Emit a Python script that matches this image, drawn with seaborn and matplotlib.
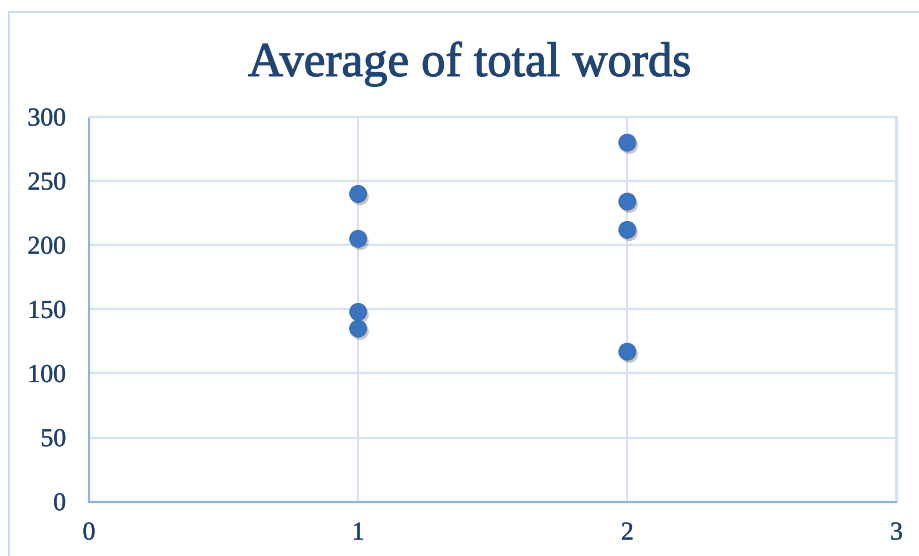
import matplotlib
matplotlib.use("Agg")
import matplotlib.pyplot as plt
import matplotlib.patheffects as pe
from matplotlib.patches import Rectangle
import pandas as pd
import seaborn as sns

# Average total words per group
group = [1, 1, 1, 1, 2, 2, 2, 2]
avg_words = [240, 205, 148, 135, 280, 234, 212, 117]
x_ticks = [0, 1, 2, 3]
y_ticks = [0, 50, 100, 150, 200, 250, 300]
title = "Average of total words"

df = pd.DataFrame({"group": group, "avg_words": avg_words})

sns.set_theme(style="white")
plt.rcParams["font.family"] = ["Liberation Serif", "DejaVu Serif"]

text_color = "#1F3F6E"
grid_color = "#D5E2F3"
axis_color = "#8DB3E2"

fig = plt.figure(figsize=(9.19, 5.56), dpi=100)
ax = fig.add_axes([89 / 919, 1 - 501.7 / 556, (896.5 - 89) / 919, (501.7 - 117) / 556])

# light frame around the whole chart
fig.patches.append(Rectangle((9 / 919, -0.1), 1.2, 1 - 12 / 556 + 0.1,
                             transform=fig.transFigure, fill=False,
                             edgecolor="#CCDCF0", linewidth=1.5, zorder=0))

sns.scatterplot(data=df, x="group", y="avg_words", ax=ax, s=150,
                color="#3A74C0", edgecolor="#3569B0", linewidth=0.6, zorder=3)
for coll in ax.collections:
    coll.set_path_effects([pe.SimplePatchShadow(offset=(1.5, -2), alpha=0.3, shadow_rgbFace="#444444"),
                           pe.Normal()])

ax.set_xlim(0, 3)
ax.set_ylim(0, 300)
ax.set_xticks(x_ticks)
ax.set_yticks(y_ticks)
ax.set_xlabel("")
ax.set_ylabel("")
ax.grid(True, color=grid_color, linewidth=1.5, zorder=0)
ax.set_axisbelow(True)

for side in ["top", "right"]:
    ax.spines[side].set_color(grid_color)
    ax.spines[side].set_linewidth(1.5)
for side in ["left", "bottom"]:
    ax.spines[side].set_color(axis_color)
    ax.spines[side].set_linewidth(1.5)

ax.tick_params(axis="both", length=0, labelsize=18.5, labelcolor=text_color)
ax.tick_params(axis="y", pad=16.5)
ax.tick_params(axis="x", pad=15)
for lbl in ax.get_xticklabels() + ax.get_yticklabels():
    lbl.set_path_effects([pe.withStroke(linewidth=0.2, foreground=text_color)])

fig.text(0.5 * (250 + 690) / 919, 1 - 76 / 556, title, ha="center", va="baseline",
         fontsize=35, color="#1F4577",
         path_effects=[pe.withStroke(linewidth=0.7, foreground="#1F4577")])

fig.savefig("out.png", dpi=100)
